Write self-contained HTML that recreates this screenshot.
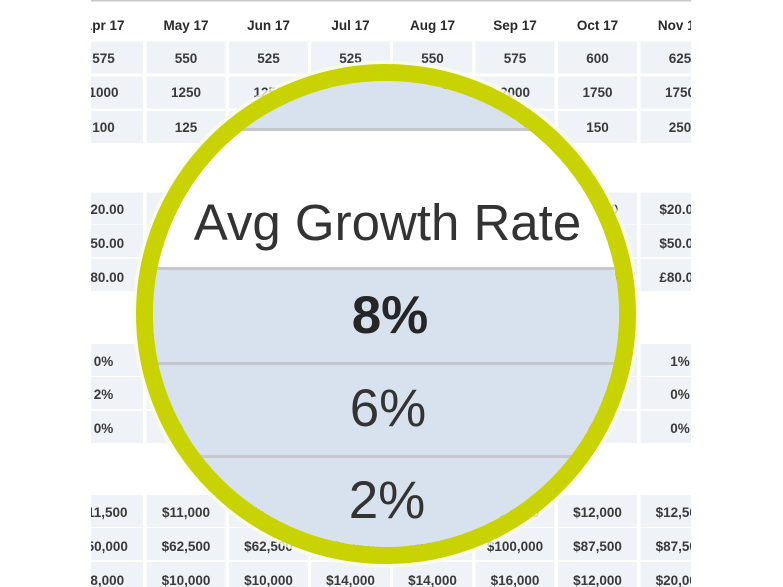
<!DOCTYPE html>
<html><head><meta charset="utf-8"><style>
html,body{margin:0;padding:0;background:#fff;}
svg{display:block;}
.h{font-family:"Liberation Sans",sans-serif;font-weight:bold;font-size:13.5px;fill:#2a2a2a;text-anchor:middle;}
.v{font-family:"Liberation Sans",sans-serif;font-weight:bold;font-size:13.5px;fill:#3a3a3a;text-anchor:middle;}
</style></head><body>
<svg width="783" height="587" viewBox="0 0 783 587" xmlns="http://www.w3.org/2000/svg">
<defs>
<clipPath id="tbl"><rect x="91" y="0" width="600" height="587"/></clipPath>
<clipPath id="inner"><circle cx="386" cy="314" r="233"/></clipPath>
</defs>
<rect width="783" height="587" fill="#fff"/>
<g clip-path="url(#tbl)">
<rect x="91" y="0" width="600" height="1.5" fill="#c9c9c9"/>
<g fill="#eff3f8">
<g id="r1"><rect x="64" y="41.5" width="79" height="32"/><rect x="146.5" y="41.5" width="79" height="32"/><rect x="229" y="41.5" width="79" height="32"/><rect x="311" y="41.5" width="79" height="32"/><rect x="393" y="41.5" width="79" height="32"/><rect x="475.5" y="41.5" width="79" height="32"/><rect x="558" y="41.5" width="79" height="32"/><rect x="640.5" y="41.5" width="79" height="32"/></g>
<use href="#r1" y="35"/>
<use href="#r1" y="69.5"/>
<use href="#r1" y="151"/>
<use href="#r1" y="183.5"/>
<use href="#r1" y="217.5"/>
<use href="#r1" y="302.5"/>
<use href="#r1" y="335.5"/>
<use href="#r1" y="369.5"/>
<use href="#r1" y="453.5"/>
<use href="#r1" y="486.5"/>
<use href="#r1" y="520.5"/>
</g>
<g class="h">
<text x="103.5" y="30">Apr 17</text><text x="186" y="30">May 17</text><text x="268.5" y="30">Jun 17</text><text x="350.5" y="30">Jul 17</text><text x="432.5" y="30">Aug 17</text><text x="515" y="30">Sep 17</text><text x="597.5" y="30">Oct 17</text><text x="680" y="30">Nov 17</text>
</g>
<g class="v">
<text x="103.5" y="63">575</text><text x="186" y="63">550</text><text x="268.5" y="63">525</text><text x="350.5" y="63">525</text><text x="432.5" y="63">550</text><text x="515" y="63">575</text><text x="597.5" y="63">600</text><text x="680" y="63">625</text>
<text x="103.5" y="97">1000</text><text x="186" y="97">1250</text><text x="268.5" y="97">1250</text><text x="350.5" y="97">1500</text><text x="432.5" y="97">1750</text><text x="515" y="97">2000</text><text x="597.5" y="97">1750</text><text x="680" y="97">1750</text>
<text x="103.5" y="132">100</text><text x="186" y="132">125</text><text x="268.5" y="132">125</text><text x="350.5" y="132">150</text><text x="432.5" y="132">150</text><text x="515" y="132">200</text><text x="597.5" y="132">150</text><text x="680" y="132">250</text>

<text x="103.5" y="214">$20.00</text><text x="186" y="214">$20.00</text><text x="268.5" y="214">$20.00</text><text x="350.5" y="214">$20.00</text><text x="432.5" y="214">$20.00</text><text x="515" y="214">$20.00</text><text x="597.5" y="214">$20.00</text><text x="680" y="214">$20.00</text>
<text x="103.5" y="248">$50.00</text><text x="186" y="248">$50.00</text><text x="268.5" y="248">$50.00</text><text x="350.5" y="248">$50.00</text><text x="432.5" y="248">$50.00</text><text x="515" y="248">$50.00</text><text x="597.5" y="248">$50.00</text><text x="680" y="248">$50.00</text>
<text x="103.5" y="282">£80.00</text><text x="186" y="282">£80.00</text><text x="268.5" y="282">£80.00</text><text x="350.5" y="282">£80.00</text><text x="432.5" y="282">£80.00</text><text x="515" y="282">£80.00</text><text x="597.5" y="282">£80.00</text><text x="680" y="282">£80.00</text>

<text x="103.5" y="366">0%</text><text x="186" y="366">0%</text><text x="268.5" y="366">0%</text><text x="350.5" y="366">0%</text><text x="432.5" y="366">0%</text><text x="515" y="366">0%</text><text x="597.5" y="366">0%</text><text x="680" y="366">1%</text>
<text x="103.5" y="399">2%</text><text x="186" y="399">2%</text><text x="268.5" y="399">2%</text><text x="350.5" y="399">2%</text><text x="432.5" y="399">2%</text><text x="515" y="399">2%</text><text x="597.5" y="399">2%</text><text x="680" y="399">0%</text>
<text x="103.5" y="433">0%</text><text x="186" y="433">0%</text><text x="268.5" y="433">0%</text><text x="350.5" y="433">0%</text><text x="432.5" y="433">0%</text><text x="515" y="433">0%</text><text x="597.5" y="433">0%</text><text x="680" y="433">0%</text>

<text x="103.5" y="517">$11,500</text><text x="186" y="517">$11,000</text><text x="268.5" y="517">$11,000</text><text x="350.5" y="517">$11,500</text><text x="432.5" y="517">$12,000</text><text x="515" y="517">$12,500</text><text x="597.5" y="517">$12,000</text><text x="680" y="517">$12,500</text>
<text x="103.5" y="551">$50,000</text><text x="186" y="551">$62,500</text><text x="268.5" y="551">$62,500</text><text x="350.5" y="551">$75,000</text><text x="432.5" y="551">$87,500</text><text x="515" y="551">$100,000</text><text x="597.5" y="551">$87,500</text><text x="680" y="551">$87,500</text>
<text x="103.5" y="585">$8,000</text><text x="186" y="585">$10,000</text><text x="268.5" y="585">$10,000</text><text x="350.5" y="585">$14,000</text><text x="432.5" y="585">$14,000</text><text x="515" y="585">$16,000</text><text x="597.5" y="585">$12,000</text><text x="680" y="585">$20,000</text>
</g>
</g>

<circle cx="386" cy="314" r="251" fill="none" stroke="#fbfde6" stroke-width="5" opacity="0.8"/>
<g clip-path="url(#inner)">
<rect x="140" y="60" width="500" height="510" fill="#d8e2ee"/>
<rect x="140" y="128" width="500" height="3" fill="#c6c6ce"/>
<rect x="140" y="131" width="500" height="136" fill="#ffffff"/>
<rect x="140" y="267" width="500" height="3" fill="#c8c7cf"/>
<rect x="140" y="362" width="500" height="3" fill="#c8c7cf"/>
<rect x="140" y="455" width="500" height="3" fill="#c8c7cf"/>
<text x="387.5" y="240" font-family="Liberation Sans, sans-serif" font-size="51" fill="#333" text-anchor="middle">Avg Growth Rate</text>
<text x="390" y="333" font-family="Liberation Sans, sans-serif" font-size="53" font-weight="bold" fill="#262626" text-anchor="middle">8%</text>
<text x="388" y="426" font-family="Liberation Sans, sans-serif" font-size="53" fill="#333" text-anchor="middle">6%</text>
<text x="387" y="518" font-family="Liberation Sans, sans-serif" font-size="53" fill="#333" text-anchor="middle">2%</text>
</g>
<circle cx="386" cy="314" r="241.5" fill="none" stroke="#c9d301" stroke-width="17"/>
</svg>
</body></html>
